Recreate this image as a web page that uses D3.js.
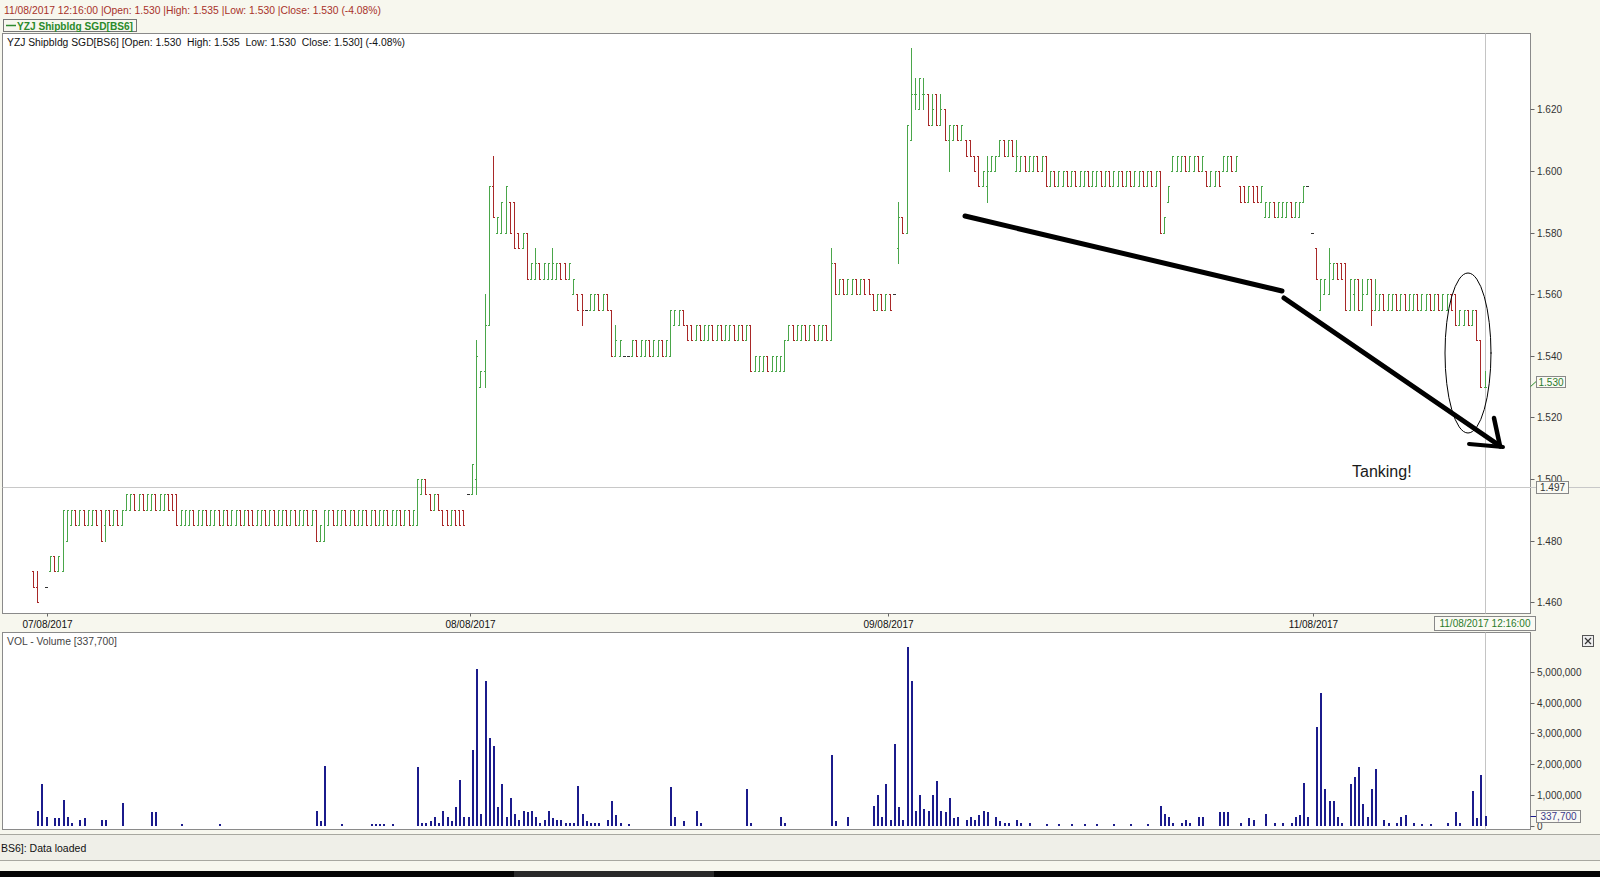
<!DOCTYPE html>
<html><head><meta charset="utf-8">
<script src="https://cdn.jsdelivr.net/npm/d3@7"></script>
<style>
html,body{margin:0;padding:0;background:#f7f7ee;overflow:hidden}
svg{display:block}
text{font-family:"Liberation Sans",Arial,sans-serif}
</style>
</head><body>
<svg id="c" width="1600" height="877"></svg>
<script>
// ---------- DATA ----------
// bars: [slot, open, high, low, close]  (5-minute slots, 4 sessions)
const day1Bars = [
[0,1.470,1.470,1.465,1.465],[1,1.465,1.470,1.460,1.460],[3,1.465,1.465,1.465,1.465],
[4,1.470,1.475,1.470,1.475],[5,1.475,1.475,1.470,1.470],[6,1.470,1.475,1.470,1.475],
[7,1.470,1.490,1.470,1.490],[8,1.480,1.490,1.480,1.490],
[9,1.485,1.490,1.485,1.490],[10,1.490,1.490,1.485,1.485],[11,1.485,1.490,1.485,1.490],
[12,1.490,1.490,1.485,1.485],[13,1.485,1.490,1.485,1.490],[14,1.485,1.490,1.485,1.490],
[15,1.490,1.490,1.485,1.485],[16,1.490,1.490,1.480,1.480],[17,1.485,1.490,1.480,1.490],
[18,1.490,1.490,1.485,1.485],[19,1.485,1.490,1.485,1.490],[20,1.490,1.490,1.485,1.485],
[21,1.485,1.490,1.485,1.490],
[22,1.490,1.495,1.490,1.495],[23,1.490,1.495,1.490,1.495],[24,1.495,1.495,1.490,1.490],
[25,1.490,1.495,1.490,1.495],[26,1.495,1.495,1.490,1.490],[27,1.490,1.495,1.490,1.495],
[28,1.490,1.495,1.490,1.495],[29,1.495,1.495,1.490,1.490],[30,1.490,1.495,1.490,1.495],
[31,1.490,1.495,1.490,1.495],[32,1.495,1.495,1.490,1.490],[33,1.495,1.495,1.490,1.490],
[34,1.495,1.495,1.485,1.485],
[35,1.485,1.490,1.485,1.490],[36,1.485,1.490,1.485,1.490],[37,1.485,1.490,1.485,1.490],
[38,1.490,1.490,1.485,1.485],[39,1.485,1.490,1.485,1.490],[40,1.485,1.490,1.485,1.490],
[41,1.490,1.490,1.485,1.485],[42,1.485,1.490,1.485,1.490],[43,1.485,1.490,1.485,1.490],
[44,1.490,1.490,1.485,1.485],[45,1.485,1.490,1.485,1.490],[46,1.490,1.490,1.485,1.485],
[47,1.485,1.490,1.485,1.490],[48,1.485,1.490,1.485,1.490],[49,1.490,1.490,1.485,1.485],
[50,1.485,1.490,1.485,1.490],[51,1.490,1.490,1.485,1.485],[52,1.490,1.490,1.485,1.485],
[53,1.485,1.490,1.485,1.490],[54,1.485,1.490,1.485,1.490],[55,1.490,1.490,1.485,1.485],
[56,1.485,1.490,1.485,1.490],[57,1.490,1.490,1.485,1.485],[58,1.485,1.490,1.485,1.490],
[59,1.485,1.490,1.485,1.490],[60,1.490,1.490,1.485,1.485],[61,1.485,1.490,1.485,1.490],
[62,1.490,1.490,1.485,1.485],[63,1.485,1.490,1.485,1.490],[64,1.485,1.490,1.485,1.490],
[65,1.490,1.490,1.485,1.485],[66,1.485,1.490,1.485,1.490],[67,1.490,1.490,1.480,1.480],
[68,1.480,1.485,1.480,1.485],[69,1.480,1.490,1.480,1.490],[70,1.485,1.490,1.485,1.490],
[71,1.490,1.490,1.485,1.485],[72,1.485,1.490,1.485,1.490],[73,1.485,1.490,1.485,1.490],
[74,1.490,1.490,1.485,1.485],[75,1.485,1.490,1.485,1.490],[76,1.490,1.490,1.485,1.485],
[77,1.485,1.490,1.485,1.490],[78,1.485,1.490,1.485,1.490],[79,1.490,1.490,1.485,1.485],
[80,1.485,1.490,1.485,1.490],[81,1.490,1.490,1.485,1.485],[82,1.485,1.490,1.485,1.490],
[83,1.485,1.490,1.485,1.490],[84,1.490,1.490,1.485,1.485],[85,1.485,1.490,1.485,1.490],
[86,1.485,1.490,1.485,1.490],[87,1.490,1.490,1.485,1.485],[88,1.485,1.490,1.485,1.490],
[89,1.490,1.490,1.485,1.485],[90,1.485,1.490,1.485,1.490],
[91,1.485,1.500,1.485,1.500],[92,1.495,1.500,1.495,1.500],[93,1.500,1.500,1.495,1.495],
[94,1.495,1.495,1.490,1.490],[95,1.490,1.495,1.490,1.495],[96,1.495,1.495,1.490,1.490],
[97,1.490,1.490,1.485,1.485],[98,1.490,1.490,1.485,1.485],[99,1.485,1.490,1.485,1.490],
[100,1.490,1.490,1.485,1.485],[101,1.490,1.490,1.485,1.485],[102,1.490,1.490,1.485,1.485]
];
const day2Bars = [
[103,1.495,1.495,1.495,1.495],[104,1.495,1.505,1.495,1.505],[105,1.500,1.545,1.495,1.540],
[106,1.530,1.535,1.530,1.535],[107,1.535,1.560,1.530,1.550],[108,1.550,1.595,1.550,1.595],
[109,1.595,1.605,1.585,1.585],[110,1.580,1.585,1.580,1.585],[111,1.580,1.590,1.580,1.590],
[112,1.580,1.595,1.580,1.595],[113,1.590,1.590,1.580,1.580],[114,1.590,1.590,1.575,1.575],
[115,1.580,1.580,1.575,1.575],[116,1.575,1.580,1.575,1.580],[117,1.580,1.580,1.565,1.565],
[118,1.565,1.570,1.565,1.570],[119,1.565,1.575,1.565,1.570],[120,1.570,1.570,1.565,1.565],
[121,1.565,1.570,1.565,1.570],[122,1.565,1.570,1.565,1.570],[123,1.565,1.575,1.565,1.570],
[124,1.565,1.570,1.565,1.570],[125,1.570,1.570,1.565,1.565],[126,1.570,1.570,1.565,1.565],
[127,1.565,1.570,1.565,1.570],[128,1.560,1.565,1.560,1.565],[129,1.560,1.560,1.555,1.555],
[130,1.560,1.560,1.550,1.555],[131,1.555,1.555,1.555,1.555],[132,1.555,1.560,1.555,1.560],
[133,1.555,1.560,1.555,1.560],[134,1.560,1.560,1.555,1.555],[135,1.555,1.560,1.555,1.560],
[136,1.560,1.560,1.555,1.555],[137,1.555,1.555,1.540,1.540],[138,1.540,1.550,1.540,1.545],
[139,1.540,1.545,1.540,1.545],[140,1.540,1.540,1.540,1.540],[141,1.540,1.540,1.540,1.540],
[142,1.540,1.545,1.540,1.545],[143,1.545,1.545,1.540,1.540],[144,1.540,1.545,1.540,1.545],
[145,1.540,1.545,1.540,1.545],[146,1.545,1.545,1.540,1.540],[147,1.540,1.545,1.540,1.545],
[148,1.540,1.545,1.540,1.545],[149,1.545,1.545,1.540,1.540],[150,1.540,1.545,1.540,1.545],
[151,1.540,1.555,1.540,1.555],[152,1.550,1.555,1.550,1.555],[153,1.550,1.555,1.550,1.555],
[154,1.555,1.555,1.550,1.550],[155,1.550,1.550,1.545,1.545],
[156,1.550,1.550,1.545,1.545],[157,1.545,1.550,1.545,1.550],[158,1.550,1.550,1.545,1.545],
[159,1.545,1.550,1.545,1.550],[160,1.545,1.550,1.545,1.550],[161,1.550,1.550,1.545,1.545],
[162,1.545,1.550,1.545,1.550],[163,1.550,1.550,1.545,1.545],[164,1.545,1.550,1.545,1.550],
[165,1.545,1.550,1.545,1.550],[166,1.550,1.550,1.545,1.545],[167,1.545,1.550,1.545,1.550],
[168,1.550,1.550,1.545,1.545],[169,1.545,1.550,1.545,1.550],
[170,1.550,1.550,1.535,1.535],[171,1.535,1.540,1.535,1.540],[172,1.535,1.540,1.535,1.540],
[173,1.535,1.540,1.535,1.540],[174,1.540,1.540,1.535,1.535],[175,1.535,1.540,1.535,1.540],
[176,1.535,1.540,1.535,1.540],[177,1.535,1.540,1.535,1.540],[178,1.535,1.545,1.535,1.545],
[179,1.545,1.550,1.545,1.550],[180,1.550,1.550,1.545,1.545],[181,1.545,1.550,1.545,1.550],
[182,1.545,1.550,1.545,1.550],[183,1.550,1.550,1.545,1.545],[184,1.545,1.550,1.545,1.550],
[185,1.550,1.550,1.545,1.545],[186,1.545,1.550,1.545,1.550],[187,1.545,1.550,1.545,1.550],
[188,1.550,1.550,1.545,1.545],[189,1.545,1.575,1.545,1.570],[190,1.570,1.570,1.560,1.560],
[191,1.560,1.565,1.560,1.565],[192,1.565,1.565,1.560,1.560],[193,1.560,1.565,1.560,1.565],
[194,1.560,1.565,1.560,1.565],[195,1.565,1.565,1.560,1.560],[196,1.560,1.565,1.560,1.565],
[197,1.565,1.565,1.560,1.560],[198,1.565,1.565,1.560,1.560],
[199,1.560,1.560,1.555,1.555],[200,1.555,1.560,1.555,1.560],[201,1.560,1.560,1.555,1.555],
[202,1.555,1.560,1.555,1.560],[203,1.560,1.560,1.555,1.555]
];
const day3Bars = [
[204,1.560,1.560,1.560,1.560],[205,1.575,1.590,1.570,1.585],[206,1.585,1.585,1.580,1.580],
[207,1.580,1.615,1.580,1.615],[208,1.610,1.640,1.610,1.625],[209,1.625,1.630,1.620,1.625],
[210,1.620,1.630,1.620,1.630],[211,1.625,1.630,1.620,1.625],[212,1.625,1.625,1.615,1.615],
[213,1.615,1.625,1.615,1.620],[214,1.625,1.625,1.615,1.615],[215,1.615,1.625,1.615,1.620],
[216,1.620,1.620,1.610,1.610],[217,1.610,1.615,1.600,1.615],[218,1.610,1.615,1.610,1.615],
[219,1.615,1.615,1.610,1.610],[220,1.610,1.615,1.610,1.615],[221,1.610,1.610,1.605,1.605],
[222,1.610,1.610,1.605,1.605],[223,1.605,1.605,1.600,1.600],[224,1.605,1.605,1.595,1.595],
[225,1.595,1.600,1.595,1.600],[226,1.595,1.605,1.590,1.600],[227,1.600,1.605,1.600,1.605],
[228,1.600,1.605,1.600,1.605],[229,1.605,1.610,1.605,1.610],[230,1.610,1.610,1.605,1.605],
[231,1.605,1.610,1.605,1.610],[232,1.610,1.610,1.605,1.605],[233,1.600,1.610,1.600,1.605],
[234,1.600,1.605,1.600,1.605],[235,1.605,1.605,1.600,1.600],[236,1.600,1.605,1.600,1.605],
[237,1.600,1.605,1.600,1.605],[238,1.605,1.605,1.600,1.600],[239,1.600,1.605,1.600,1.605],
[240,1.605,1.605,1.595,1.595],
[241,1.595,1.600,1.595,1.600],[242,1.600,1.600,1.595,1.595],[243,1.595,1.600,1.595,1.600],
[244,1.595,1.600,1.595,1.600],[245,1.600,1.600,1.595,1.595],[246,1.595,1.600,1.595,1.600],
[247,1.600,1.600,1.595,1.595],[248,1.595,1.600,1.595,1.600],[249,1.595,1.600,1.595,1.600],
[250,1.600,1.600,1.595,1.595],[251,1.595,1.600,1.595,1.600],[252,1.595,1.600,1.595,1.600],
[253,1.600,1.600,1.595,1.595],[254,1.595,1.600,1.595,1.600],[255,1.600,1.600,1.595,1.595],
[256,1.595,1.600,1.595,1.600],[257,1.595,1.600,1.595,1.600],[258,1.600,1.600,1.595,1.595],
[259,1.595,1.600,1.595,1.600],[260,1.600,1.600,1.595,1.595],[261,1.595,1.600,1.595,1.600],
[262,1.595,1.600,1.595,1.600],[263,1.600,1.600,1.595,1.595],[264,1.595,1.600,1.595,1.600],
[265,1.600,1.600,1.595,1.595],[266,1.595,1.600,1.595,1.600],
[267,1.600,1.600,1.580,1.580],[268,1.580,1.585,1.580,1.585],[269,1.590,1.595,1.590,1.595],
[270,1.600,1.605,1.600,1.605],[271,1.600,1.605,1.600,1.605],[272,1.600,1.605,1.600,1.605],
[273,1.605,1.605,1.600,1.600],[274,1.600,1.605,1.600,1.605],[275,1.600,1.605,1.600,1.605],
[276,1.605,1.605,1.600,1.600],[277,1.600,1.605,1.600,1.605],
[278,1.600,1.600,1.595,1.595],[279,1.595,1.600,1.595,1.600],[280,1.595,1.600,1.595,1.600],
[281,1.600,1.600,1.595,1.595],
[282,1.600,1.605,1.600,1.605],[283,1.600,1.605,1.600,1.605],[284,1.605,1.605,1.600,1.600],
[285,1.600,1.605,1.600,1.605],
[286,1.595,1.595,1.590,1.590],[287,1.595,1.595,1.590,1.590],[288,1.590,1.595,1.590,1.595],
[289,1.595,1.595,1.590,1.590],[290,1.595,1.595,1.590,1.590],[291,1.590,1.595,1.590,1.595],
[292,1.585,1.590,1.585,1.590],[293,1.585,1.590,1.585,1.590],[294,1.590,1.590,1.585,1.585],
[295,1.585,1.590,1.585,1.590],[296,1.585,1.590,1.585,1.590],[297,1.585,1.590,1.585,1.590],
[298,1.590,1.590,1.585,1.585],[299,1.585,1.590,1.585,1.590],[300,1.585,1.590,1.585,1.590],
[301,1.590,1.595,1.590,1.595],[302,1.595,1.595,1.595,1.595]
];
const day4Bars = [
[303,1.580,1.580,1.580,1.580],[304,1.575,1.575,1.565,1.565],[305,1.555,1.565,1.555,1.565],
[306,1.560,1.565,1.560,1.565],[307,1.560,1.575,1.560,1.570],[308,1.565,1.570,1.565,1.570],
[309,1.570,1.570,1.565,1.565],[310,1.570,1.570,1.565,1.565],[311,1.570,1.570,1.555,1.555],
[312,1.555,1.565,1.555,1.565],[313,1.560,1.565,1.555,1.565],[314,1.565,1.565,1.555,1.555],
[315,1.555,1.565,1.555,1.560],[316,1.560,1.565,1.560,1.565],[317,1.565,1.565,1.550,1.555],
[318,1.555,1.565,1.555,1.560],
[319,1.555,1.560,1.555,1.560],[320,1.560,1.560,1.555,1.555],[321,1.555,1.560,1.555,1.560],
[322,1.555,1.560,1.555,1.560],[323,1.560,1.560,1.555,1.555],[324,1.555,1.560,1.555,1.560],
[325,1.560,1.560,1.555,1.555],[326,1.555,1.560,1.555,1.560],[327,1.555,1.560,1.555,1.560],
[328,1.560,1.560,1.555,1.555],[329,1.555,1.560,1.555,1.560],[330,1.555,1.560,1.555,1.560],
[331,1.560,1.560,1.555,1.555],[332,1.555,1.560,1.555,1.560],[333,1.560,1.560,1.555,1.555],
[334,1.555,1.560,1.555,1.560],[335,1.555,1.560,1.555,1.560],[336,1.560,1.560,1.555,1.555],
[337,1.560,1.560,1.550,1.550],[338,1.550,1.555,1.550,1.555],[339,1.550,1.555,1.550,1.555],
[340,1.555,1.555,1.550,1.550],[341,1.550,1.555,1.550,1.555],[342,1.555,1.555,1.545,1.545],
[343,1.545,1.545,1.530,1.530],[344,1.530,1.535,1.530,1.530]
];
// volume: slots and shares
const volSlots = [1,2,3,5,6,7,8,9,11,12,16,17,21,28,29,35,44,67,68,69,73,80,81,82,83,85,
91,92,93,94,95,96,97,98,99,100,101,102,
103,104,105,106,107,108,109,110,111,112,113,114,115,116,117,118,119,120,121,122,123,124,125,126,127,128,
129,130,131,132,133,134,136,137,138,139,141,151,152,154,157,158,169,170,177,178,189,190,193,
199,200,201,202,203,
204,205,206,207,208,209,210,211,212,213,214,215,216,217,218,219,221,222,223,224,225,226,228,229,230,231,
233,234,236,240,243,246,249,252,256,260,264,267,268,269,270,272,273,274,276,277,281,282,283,286,288,289,292,
294,296,298,299,300,301,302,
304,305,306,307,308,309,310,312,313,314,315,316,317,318,320,321,323,324,325,327,329,331,335,337,338,341,342,343,344];
const volValues = [500000,1350000,300000,250000,250000,850000,300000,100000,200000,250000,200000,200000,750000,450000,450000,50000,50000,500000,150000,1950000,50000,50000,50000,50000,50000,50000,
1900000,100000,100000,150000,300000,100000,500000,300000,150000,600000,1500000,300000,
300000,2450000,5100000,400000,4700000,2850000,2600000,600000,1350000,300000,900000,400000,200000,500000,450000,500000,300000,100000,200000,500000,250000,200000,200000,100000,100000,100000,
1300000,400000,150000,100000,100000,100000,200000,800000,350000,100000,50000,1250000,300000,150000,500000,100000,1200000,100000,300000,100000,2300000,150000,300000,
650000,1000000,300000,1350000,200000,
2650000,600000,200000,5800000,4700000,500000,1000000,550000,500000,1000000,1450000,500000,450000,900000,250000,300000,200000,300000,200000,350000,500000,450000,300000,150000,100000,100000,
200000,100000,100000,50000,50000,50000,50000,50000,50000,50000,50000,650000,400000,300000,100000,100000,200000,100000,300000,300000,450000,450000,450000,100000,250000,200000,400000,
100000,100000,100000,300000,350000,1400000,300000,
3200000,4300000,1200000,800000,800000,300000,100000,1350000,1600000,1900000,700000,300000,1200000,1850000,200000,100000,100000,300000,350000,100000,50000,50000,100000,450000,100000,1150000,250000,1650000,337700];
const priceTicks = [1.46,1.48,1.50,1.52,1.54,1.56,1.58,1.60,1.62];
const volTicks = [0,1000000,2000000,3000000,4000000,5000000];
const dateLabels = ["07/08/2017","08/08/2017","09/08/2017","11/08/2017"];
const dateSlots = [3.2,103.5,202.7,303.2];
const lastClose = 1.530, crossPrice = 1.497, crossSlot = 344, lastVolume = 337700;

// ---------- LAYOUT ----------
const svg = d3.select("#c");
const M = {l:2.5, r:1530.5, t:33.5, b:613.5};
const V = {l:2.5, r:1530.5, t:632.5, b:829.5};
const x = d3.scaleLinear().domain([0,344]).range([33,33+344*4.22]);
const y = d3.scaleLinear().domain([1.46,1.62]).range([602.3,109.3]);
const vy = d3.scaleLinear().domain([0,5000000]).range([826,671.8]);
const GREEN="#4aa64a", RED="#a82828", AXC="#333";
const px = v => Math.round(v)+0.5;

svg.append("rect").attr("width",1600).attr("height",877).attr("fill","#f7f7ee");

// header
svg.append("text").attr("x",4).attr("y",14).attr("font-size",10.5).attr("fill","#a8322a")
  .attr("textLength",377).attr("lengthAdjust","spacingAndGlyphs")
  .text("11/08/2017 12:16:00 |Open: 1.530 |High: 1.535 |Low: 1.530 |Close: 1.530 (-4.08%)");
svg.append("rect").attr("x",3.5).attr("y",19.5).attr("width",133).attr("height",12).attr("fill","#f7f7ee").attr("stroke","#777");
svg.append("line").attr("x1",6).attr("x2",16).attr("y1",25.5).attr("y2",25.5).attr("stroke","#2e8b2e").attr("stroke-width",1.5);
svg.append("text").attr("x",17).attr("y",29.5).attr("font-size",11).attr("font-weight","bold").attr("fill","#2a8a2a")
  .attr("textLength",116).attr("lengthAdjust","spacingAndGlyphs")
  .text("YZJ Shipbldg SGD[BS6]");

// main frame
svg.append("rect").attr("x",M.l).attr("y",M.t).attr("width",M.r-M.l).attr("height",M.b-M.t)
  .attr("fill","#fff").attr("stroke","#8a8a8a");
svg.append("text").attr("x",7).attr("y",46).attr("font-size",10).attr("fill","#111")
  .attr("textLength",398).attr("lengthAdjust","spacingAndGlyphs").style("white-space","pre")
  .text("YZJ Shipbldg SGD[BS6] [Open: 1.530  High: 1.535  Low: 1.530  Close: 1.530] (-4.08%)");

// volume frame
svg.append("rect").attr("x",V.l).attr("y",V.t).attr("width",V.r-V.l).attr("height",V.b-V.t)
  .attr("fill","#fff").attr("stroke","#8a8a8a");
svg.append("text").attr("x",7).attr("y",645).attr("font-size",10).attr("fill","#444")
  .attr("textLength",110).attr("lengthAdjust","spacingAndGlyphs").text("VOL - Volume [337,700]");

// crosshair
svg.append("line").attr("x1",px(x(crossSlot))).attr("x2",px(x(crossSlot))).attr("y1",M.t).attr("y2",M.b).attr("stroke","#c4c4c4");
svg.append("line").attr("x1",px(x(crossSlot))).attr("x2",px(x(crossSlot))).attr("y1",V.t).attr("y2",V.b).attr("stroke","#c4c4c4");
svg.append("line").attr("x1",M.l).attr("x2",1600).attr("y1",px(y(crossPrice))-1).attr("y2",px(y(crossPrice))-1).attr("stroke","#c8c8c8");

// price axis
const pa = svg.append("g");
priceTicks.forEach(t=>{
  const yy = px(y(t));
  pa.append("line").attr("x1",M.r).attr("x2",M.r+4).attr("y1",yy).attr("y2",yy).attr("stroke","#666");
  pa.append("text").attr("x",1537).attr("y",yy+3.5).attr("font-size",10).attr("fill",AXC).text(d3.format(".3f")(t));
});
// volume axis
volTicks.forEach(t=>{
  const yy = px(vy(t));
  pa.append("line").attr("x1",V.r).attr("x2",V.r+4).attr("y1",yy).attr("y2",yy).attr("stroke","#666");
  pa.append("text").attr("x",1537).attr("y",yy+3.5).attr("font-size",10).attr("fill",AXC).text(d3.format(",")(t));
});
// date axis
dateSlots.forEach((s,i)=>{
  const xx = px(x(s));
  pa.append("line").attr("x1",xx).attr("x2",xx).attr("y1",M.b).attr("y2",M.b+3).attr("stroke","#666");
  pa.append("text").attr("x",xx).attr("y",628).attr("font-size",10).attr("fill","#111").attr("text-anchor","middle").text(dateLabels[i]);
});

// OHLC bars
const allBars = day1Bars.concat(day2Bars, day3Bars, day4Bars);
const bg = svg.append("g").attr("shape-rendering","crispEdges");
allBars.forEach(d=>{
  const [s,o,h,l,c] = d;
  const xx = px(x(s));
  const col = (h===l) ? "#333" : (c>=o ? GREEN : RED);
  const yh = Math.round(y(h)), yl = Math.round(y(l)), yo = Math.round(y(o))+0.5, yc = Math.round(y(c))+0.5;
  const p = `M${xx},${yh}V${yl+1}M${xx-1.5},${yo}H${xx}M${xx},${yc}H${xx+1.5}`;
  bg.append("path").attr("d",p).attr("stroke",col).attr("stroke-width",1).attr("fill","none");
});

// volume bars
const vg = svg.append("g").attr("shape-rendering","crispEdges");
volSlots.forEach((s,i)=>{
  const xx = Math.round(x(s));
  const top = vy(volValues[i]);
  vg.append("rect").attr("x",xx-0.5).attr("y",top).attr("width",2).attr("height",Math.max(1,vy(0)-top)).attr("fill","#1b1b8c");
});

// value labels
function box(x0,y0,w,h,txt,col){
  svg.append("rect").attr("x",x0+0.5).attr("y",y0+0.5).attr("width",w).attr("height",h).attr("fill","#fafaf3").attr("stroke","#888");
  svg.append("text").attr("x",x0+w/2+0.5).attr("y",y0+h/2+4).attr("font-size",10).attr("text-anchor","middle").attr("fill",col).text(txt);
}
svg.append("line").attr("x1",M.r).attr("y1",y(lastClose)).attr("x2",1536).attr("y2",y(lastClose)-5).attr("stroke","#2a8a2a");
box(1536,376,29,11,d3.format(".3f")(lastClose),"#2a7a2a");
box(1536,481,32,12,d3.format(".3f")(crossPrice),"#333");
box(1434,616,101,14,"11/08/2017 12:16:00","#2a7a2a");
svg.append("line").attr("x1",V.r).attr("y1",px(vy(lastVolume))).attr("x2",1536).attr("y2",px(vy(lastVolume))).attr("stroke","#1b1b8c");
box(1536,810,44,12,d3.format(",")(lastVolume),"#3a3a8a");

// close button
svg.append("rect").attr("x",1582.5).attr("y",635.5).attr("width",11).attr("height",11).attr("fill","#eee").attr("stroke","#555");
svg.append("path").attr("d","M1585,638L1591,644M1591,638L1585,644").attr("stroke","#333").attr("stroke-width",1.2);

// status bar
svg.append("line").attr("x1",0).attr("x2",1600).attr("y1",834.5).attr("y2",834.5).attr("stroke","#a8a8a0");
svg.append("rect").attr("x",0).attr("y",835).attr("width",1600).attr("height",25).attr("fill","#efefe8");
svg.append("line").attr("x1",0).attr("x2",1600).attr("y1",860.5).attr("y2",860.5).attr("stroke","#a8a8a0");
svg.append("text").attr("x",1).attr("y",852).attr("font-size",10.5).attr("fill","#111").text("BS6]: Data loaded");
svg.append("rect").attr("x",0).attr("y",871).attr("width",1600).attr("height",6).attr("fill","#050505");
svg.append("rect").attr("x",514).attr("y",871).attr("width",200).attr("height",6).attr("fill","#2a2a2a");

// hand-drawn annotations
const ann = svg.append("g").attr("stroke","#000").attr("fill","none").attr("stroke-linecap","round");
ann.append("path").attr("d","M965,216L1282,291").attr("stroke-width",5);
ann.append("path").attr("d","M1284,298L1500,446").attr("stroke-width",5);
ann.append("path").attr("d","M1494,418L1500,446").attr("stroke-width",4.5);
ann.append("path").attr("d","M1469,444L1503,447").attr("stroke-width",4);
ann.append("ellipse").attr("cx",1468).attr("cy",353).attr("rx",23).attr("ry",80).attr("stroke-width",1);
svg.append("text").attr("x",1352).attr("y",477).attr("font-size",16).attr("font-family","'Open Sans',sans-serif").attr("fill","#1a1a1a").text("Tanking!");
</script>
</body></html>
